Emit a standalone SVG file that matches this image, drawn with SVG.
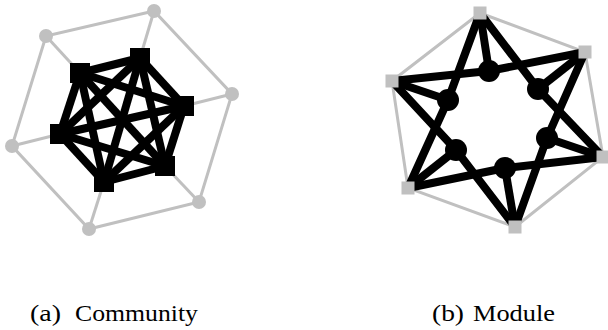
<svg xmlns="http://www.w3.org/2000/svg" width="608" height="330" viewBox="0 0 608 330">
<style>
.g{stroke:#c0c0c0;stroke-width:3;fill:none}
.b{stroke:#000;stroke-width:8;fill:none;stroke-linejoin:round}
.gn{fill:#c0c0c0}
.bn{fill:#000}
.cap{font-family:"Liberation Serif",serif;font-size:24px;fill:#000}
</style>
<rect width="608" height="330" fill="#fff"/>
<g id="connectors">
<g class="g">
<polygon points="154,11 46,36 12,146 89,229 199,202 232,94"/>
<line x1="154" y1="11" x2="140" y2="58"/>
<line x1="46" y1="36" x2="80" y2="73"/>
<line x1="232" y1="94" x2="184" y2="106"/>
<line x1="12" y1="146" x2="60" y2="134"/>
<line x1="199" y1="202" x2="165" y2="166"/>
<line x1="89" y1="229" x2="104" y2="182"/>
<polygon points="480,13 585,52 603,157 515,227 408,188 392,81"/>
</g>
<g class="b">
<line x1="140" y1="58" x2="80" y2="73"/>
<line x1="140" y1="58" x2="184" y2="106"/>
<line x1="140" y1="58" x2="60" y2="134"/>
<line x1="140" y1="58" x2="165" y2="166"/>
<line x1="140" y1="58" x2="104" y2="182"/>
<line x1="80" y1="73" x2="184" y2="106"/>
<line x1="80" y1="73" x2="60" y2="134"/>
<line x1="80" y1="73" x2="165" y2="166"/>
<line x1="80" y1="73" x2="104" y2="182"/>
<line x1="184" y1="106" x2="60" y2="134"/>
<line x1="184" y1="106" x2="165" y2="166"/>
<line x1="184" y1="106" x2="104" y2="182"/>
<line x1="60" y1="134" x2="165" y2="166"/>
<line x1="60" y1="134" x2="104" y2="182"/>
<line x1="165" y1="166" x2="104" y2="182"/>
<polyline points="480,13 448,100 408,188"/>
<polyline points="408,188 505,168 603,157"/>
<polyline points="603,157 538,89 480,13"/>
<polyline points="392,81 489,71 585,52"/>
<polyline points="585,52 547,138 515,227"/>
<polyline points="515,227 456,150 392,81"/>
<line x1="480" y1="13" x2="489" y2="71"/>
<line x1="392" y1="81" x2="448" y2="100"/>
<line x1="408" y1="188" x2="456" y2="150"/>
<line x1="515" y1="227" x2="505" y2="168"/>
<line x1="603" y1="157" x2="547" y2="138"/>
<line x1="585" y1="52" x2="538" y2="89"/>
</g>
</g>
<g id="a-o1"><circle class="gn" cx="154" cy="11" r="7"/></g>
<g id="a-o2"><circle class="gn" cx="46" cy="36" r="7"/></g>
<g id="a-o3"><circle class="gn" cx="232" cy="94" r="7"/></g>
<g id="a-o4"><circle class="gn" cx="12" cy="146" r="7"/></g>
<g id="a-o5"><circle class="gn" cx="199" cy="202" r="7"/></g>
<g id="a-o6"><circle class="gn" cx="89" cy="229" r="7"/></g>
<g id="a-i1"><rect class="bn" x="130" y="48" width="20" height="20"/></g>
<g id="a-i2"><rect class="bn" x="70" y="63" width="20" height="20"/></g>
<g id="a-i3"><rect class="bn" x="174" y="96" width="20" height="20"/></g>
<g id="a-i4"><rect class="bn" x="50" y="124" width="20" height="20"/></g>
<g id="a-i5"><rect class="bn" x="155" y="156" width="20" height="20"/></g>
<g id="a-i6"><rect class="bn" x="94" y="172" width="20" height="20"/></g>
<g id="b-c1"><circle class="bn" cx="489" cy="71" r="11"/></g>
<g id="b-c2"><circle class="bn" cx="448" cy="100" r="11"/></g>
<g id="b-c3"><circle class="bn" cx="456" cy="150" r="11"/></g>
<g id="b-c4"><circle class="bn" cx="505" cy="168" r="11"/></g>
<g id="b-c5"><circle class="bn" cx="547" cy="138" r="11"/></g>
<g id="b-c6"><circle class="bn" cx="538" cy="89" r="11"/></g>
<g id="b-s1"><rect class="gn" x="473.5" y="6.5" width="13" height="13"/></g>
<g id="b-s2"><rect class="gn" x="578.5" y="45.5" width="13" height="13"/></g>
<g id="b-s3"><rect class="gn" x="596.5" y="150.5" width="13" height="13"/></g>
<g id="b-s4"><rect class="gn" x="508.5" y="220.5" width="13" height="13"/></g>
<g id="b-s5"><rect class="gn" x="401.5" y="181.5" width="13" height="13"/></g>
<g id="b-s6"><rect class="gn" x="385.5" y="74.5" width="13" height="13"/></g>
<g id="captions">
<text class="cap" x="30" y="321" textLength="31" lengthAdjust="spacingAndGlyphs">(a)</text>
<text class="cap" x="75" y="321" textLength="123" lengthAdjust="spacingAndGlyphs">Community</text>
<text class="cap" x="432" y="321" textLength="32" lengthAdjust="spacingAndGlyphs">(b)</text>
<text class="cap" x="473" y="321" textLength="82" lengthAdjust="spacingAndGlyphs">Module</text>
</g>
</svg>
